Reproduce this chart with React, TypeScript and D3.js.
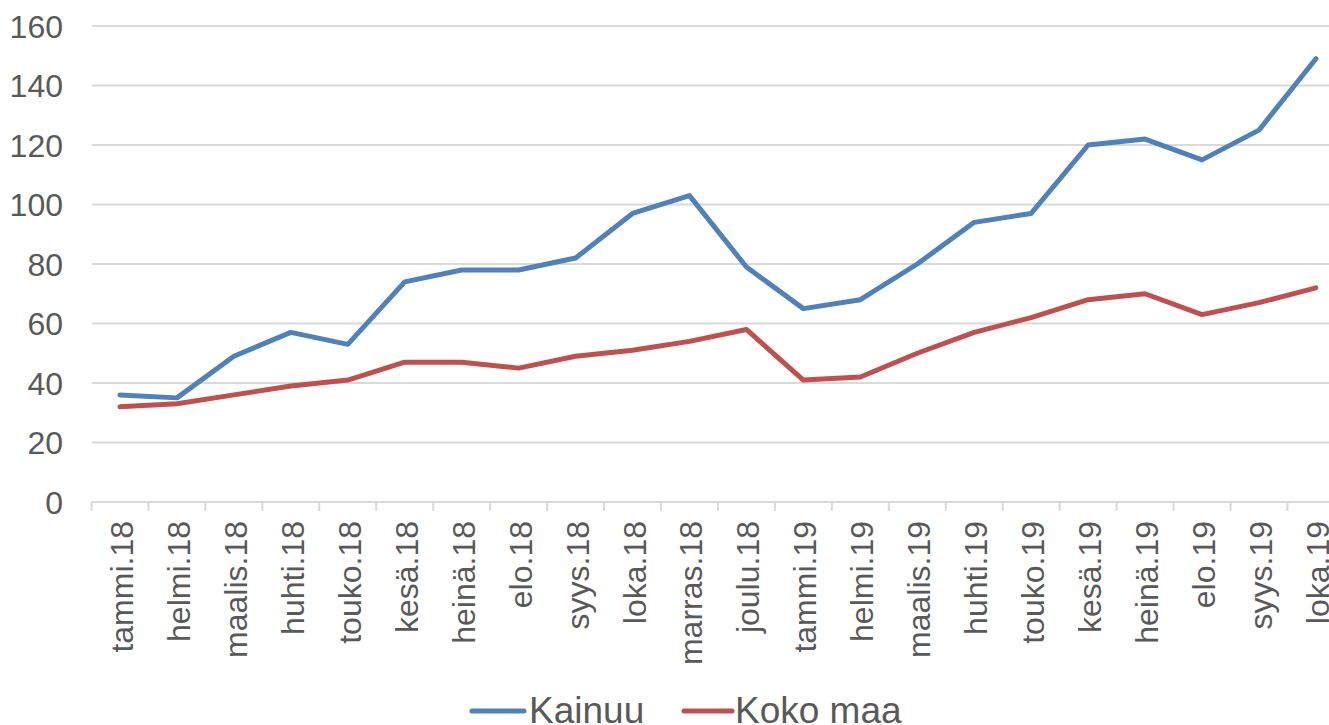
import React, { useRef, useEffect } from 'react';
import * as d3 from 'd3';

const months = [
  'tammi.18', 'helmi.18', 'maalis.18', 'huhti.18', 'touko.18', 'kesä.18', 'heinä.18', 'elo.18',
  'syys.18', 'loka.18', 'marras.18', 'joulu.18', 'tammi.19', 'helmi.19', 'maalis.19', 'huhti.19',
  'touko.19', 'kesä.19', 'heinä.19', 'elo.19', 'syys.19', 'loka.19',
];
const kainuu = [36, 35, 49, 57, 53, 74, 78, 78, 82, 97, 103, 79, 65, 68, 80, 94, 97, 120, 122, 115, 125, 149];
const kokoMaa = [32, 33, 36, 39, 41, 47, 47, 45, 49, 51, 54, 58, 41, 42, 50, 57, 62, 68, 70, 63, 67, 72];
const yTicks = [0, 20, 40, 60, 80, 100, 120, 140, 160];

const series = [
  { name: 'Kainuu', values: kainuu, color: '#4F81BD' },
  { name: 'Koko maa', values: kokoMaa, color: '#C0504D' },
];

const App = () => {
  const ref = useRef<SVGSVGElement>(null);

  useEffect(() => {
    const svg = d3.select(ref.current);
    svg.selectAll('*').remove();

    const font = '"Liberation Sans", Arial, sans-serif';
    const textColor = '#595959';
    const gridColor = '#D9D9D9';

    const x = d3.scaleBand<string>().domain(months).range([91.5, 1344.4]);
    const y = d3.scaleLinear().domain([0, 160]).range([502, 26]);

    // gridlines
    svg.append('g')
      .selectAll('line')
      .data(yTicks.filter(d => d > 0))
      .enter().append('line')
      .attr('x1', 92).attr('x2', 1344)
      .attr('y1', d => y(d)).attr('y2', d => y(d))
      .attr('stroke', gridColor).attr('stroke-width', 2);

    // y labels
    svg.append('g')
      .selectAll('text')
      .data(yTicks)
      .enter().append('text')
      .attr('x', 63)
      .attr('y', d => y(d))
      .attr('dy', '0.36em')
      .attr('text-anchor', 'end')
      .attr('font-family', font)
      .attr('font-size', 32)
      .attr('fill', textColor)
      .text(d => d);

    // x axis
    const xAxis = svg.append('g');
    xAxis.append('line')
      .attr('x1', 92).attr('x2', 1344)
      .attr('y1', y(0)).attr('y2', y(0))
      .attr('stroke', gridColor).attr('stroke-width', 2);
    xAxis.selectAll('line.tick')
      .data(months)
      .enter().append('line')
      .attr('class', 'tick')
      .attr('x1', d => x(d)!).attr('x2', d => x(d)!)
      .attr('y1', y(0)).attr('y2', y(0) + 9)
      .attr('stroke', gridColor).attr('stroke-width', 2);
    xAxis.selectAll('text')
      .data(months)
      .enter().append('text')
      .attr('transform', d => `translate(${x(d)! + x.bandwidth() / 2 + 13},521) rotate(-90)`)
      .attr('text-anchor', 'end')
      .attr('font-family', font)
      .attr('font-size', 32)
      .attr('fill', textColor)
      .text(d => d);

    // lines
    const line = d3.line<number>()
      .x((_, i) => x(months[i])! + x.bandwidth() / 2)
      .y(d => y(d));

    series.slice().reverse().forEach(s => {
      svg.append('path')
        .datum(s.values)
        .attr('fill', 'none')
        .attr('stroke', s.color)
        .attr('stroke-width', 5)
        .attr('stroke-linejoin', 'round')
        .attr('stroke-linecap', 'round')
        .attr('d', line);
    });

    // legend
    const legend = [
      { ...series[0], x1: 472, x2: 524, tx: 529 },
      { ...series[1], x1: 684, x2: 732, tx: 735 },
    ];
    const lg = svg.append('g');
    legend.forEach(l => {
      lg.append('line')
        .attr('x1', l.x1).attr('x2', l.x2)
        .attr('y1', 711).attr('y2', 711)
        .attr('stroke', l.color).attr('stroke-width', 5)
        .attr('stroke-linecap', 'round');
      lg.append('text')
        .attr('x', l.tx).attr('y', 723)
        .attr('font-family', font)
        .attr('font-size', 37)
        .attr('fill', textColor)
        .text(l.name);
    });
  }, []);

  return (
    <svg
      ref={ref}
      width={1329}
      height={725}
      style={{ position: 'absolute', left: 0, top: 0, background: '#fff' }}
    />
  );
};

export default App;
